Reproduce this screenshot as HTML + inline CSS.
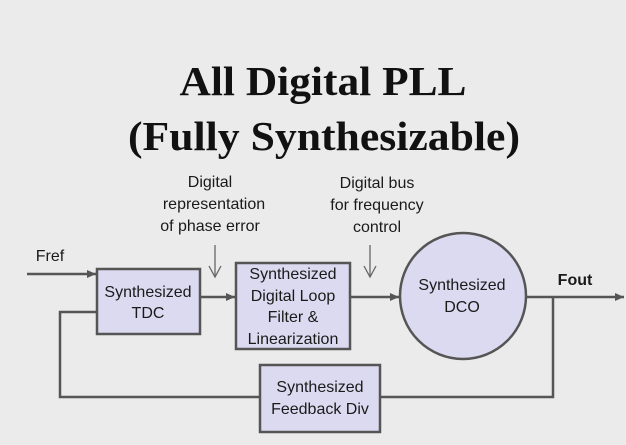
<!DOCTYPE html>
<html><head><meta charset="utf-8"><style>
html,body{margin:0;padding:0;background:#ebebeb;}
svg{display:block;}
.s{font-family:"Liberation Sans","DejaVu Sans",sans-serif;font-size:16px;fill:#1a1a1a;text-anchor:middle;}
</style></head><body>
<svg width="626" height="445" viewBox="0 0 626 445" xmlns="http://www.w3.org/2000/svg">
<defs>
<marker id="a" markerWidth="10" markerHeight="10" refX="9" refY="5" orient="auto" markerUnits="userSpaceOnUse"><path d="M0,1 L9,5 L0,9 z" fill="#555"/></marker>
</defs>
<rect width="626" height="445" fill="#ebebeb"/>
<g font-family="Liberation Serif, serif" font-weight="bold" font-size="41" fill="#111" text-anchor="middle">
<text x="323" y="95" textLength="287" lengthAdjust="spacingAndGlyphs">All Digital PLL</text>
<text x="324" y="150" textLength="392" lengthAdjust="spacingAndGlyphs">(Fully Synthesizable)</text>
</g>
<text class="s" x="210" y="187">Digital</text>
<text class="s" x="214" y="209">representation</text>
<text class="s" x="210" y="231">of phase error</text>
<text class="s" x="377" y="188">Digital bus</text>
<text class="s" x="377" y="210">for frequency</text>
<text class="s" x="377" y="232">control</text>
<g stroke="#666" stroke-width="1.3" fill="none">
<line x1="215" y1="245" x2="215" y2="277"/>
<line x1="370" y1="245" x2="370" y2="277"/>
<path d="M209,266 L215,277 L221,266"/>
<path d="M364,266 L370,277 L376,266"/>
</g>
<g stroke="#555" stroke-width="2.5" fill="none">
<line x1="27" y1="274" x2="96" y2="274" marker-end="url(#a)"/>
<line x1="200" y1="297" x2="235" y2="297" marker-end="url(#a)"/>
<line x1="350" y1="297" x2="399" y2="297" marker-end="url(#a)"/>
<line x1="526" y1="297" x2="624" y2="297" marker-end="url(#a)"/>
<polyline points="553,297 553,397 380,397"/>
<polyline points="260,397 60,397 60,312 97,312"/>
</g>
<g fill="#dcdaf0" stroke="#555" stroke-width="2.5">
<rect x="97" y="269" width="103" height="65"/>
<rect x="236" y="263" width="114" height="86"/>
<rect x="260" y="365" width="120" height="67"/>
<circle cx="463" cy="296" r="63"/>
</g>
<text class="s" x="148" y="297">Synthesized</text>
<text class="s" x="148" y="318">TDC</text>
<text class="s" x="293" y="279">Synthesized</text>
<text class="s" x="293" y="301">Digital Loop</text>
<text class="s" x="293" y="322">Filter &amp;</text>
<text class="s" x="293" y="344">Linearization</text>
<text class="s" x="320" y="392">Synthesized</text>
<text class="s" x="320" y="414">Feedback Div</text>
<text class="s" x="462" y="290">Synthesized</text>
<text class="s" x="462" y="312">DCO</text>
<text class="s" x="50" y="261">Fref</text>
<text class="s" x="575" y="285" style="font-weight:bold">Fout</text>
</svg>
</body></html>
